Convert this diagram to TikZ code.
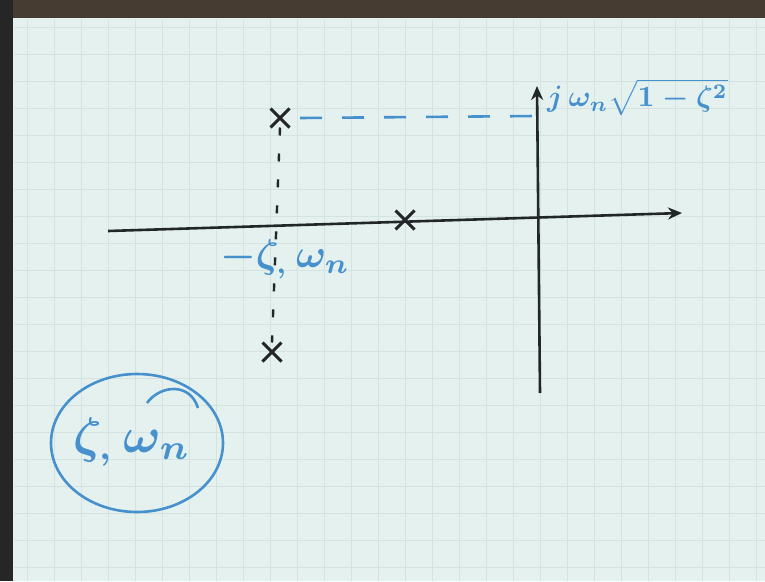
\documentclass[tikz,border=0pt]{standalone}
\usetikzlibrary{arrows.meta,shapes.misc,shapes.geometric}
\definecolor{paper}{RGB}{228,241,238}
\definecolor{gridc}{RGB}{212,226,224}
\definecolor{ink}{RGB}{35,38,40}
\definecolor{blueink}{RGB}{70,145,205}
\definecolor{frame}{RGB}{70,60,50}
\begin{document}
\begin{tikzpicture}[x=1pt,y=-1pt,
  axis/.style={draw=ink,line width=2.6pt,-{Stealth[length=14pt,width=12pt]}},
  pole/.style={cross out,draw=ink,line width=3pt,minimum size=16pt,inner sep=0pt},
  bluelbl/.style={text=blueink,inner sep=1pt,font=\boldmath},
  guide/.style={draw=blueink,line width=2.6pt,dash pattern=on 22pt off 20pt},
  vguide/.style={draw=ink,line width=2.4pt,dash pattern=on 8pt off 18pt},
  bluestroke/.style={draw=blueink,line width=2.6pt}]
\useasboundingbox (0,0) rectangle (765,581);
\fill[paper] (0,0) rectangle (765,581);
\draw[gridc,line width=0.6pt,step=27pt] (14,20) grid (765,581);
\fill[frame] (0,0) rectangle (765,18);
\fill[black!85] (0,0) rectangle (13,581);
% axes
\coordinate (rl) at (108,231);
\coordinate (rr) at (682,213);
\coordinate (ib) at (540,393);
\coordinate (it) at (537,86);
\draw[axis] (rl) -- (rr);
\draw[axis] (ib) -- (it);
% poles
\node[pole] (p1) at (280,118) {};
\node[pole] (p2) at (405,220) {};
\node[pole] (p3) at (272,352) {};
% guides
\coordinate (g1) at (300,118);
\coordinate (g2) at (536,116);
\draw[guide] (g1) -- (g2);
\draw[vguide] (p1.south) -- (p3.north);
% labels
\node[bluelbl,anchor=west] (lim) at (546,97) {\scalebox{2.95}{$j\,\omega_n\sqrt{1-\zeta^2}$}};
\node[bluelbl] (lre) at (285,259) {\scalebox{4.0}{$-\zeta_{,}\,\omega_n$}};
\node[bluestroke,ellipse,minimum width=172pt,minimum height=138pt,inner sep=0pt] (circ) at (137,443) {};
\node[bluelbl] (lc) at (132,442) {\scalebox{5.0}{$\zeta_{,}\,\omega_n$}};
\coordinate (a1) at (147,403);
\coordinate (a2) at (198,408);
\draw[bluestroke] (a1) .. controls (160,385) and (190,382) .. (a2);
\end{tikzpicture}
\end{document}
